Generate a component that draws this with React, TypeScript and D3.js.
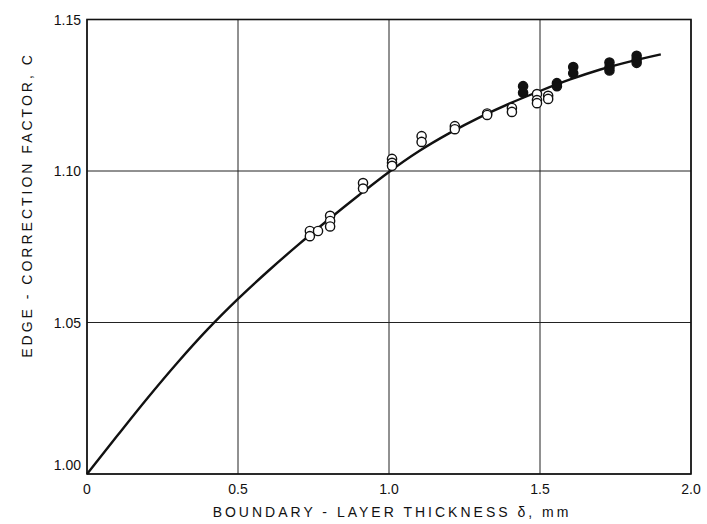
import React from 'react';
import * as d3 from 'd3';

// fitted curve
const curveX = [0, 0.1, 0.2, 0.3, 0.4, 0.5, 0.6, 0.7, 0.8, 0.9, 1.0, 1.1, 1.2, 1.3, 1.4, 1.5, 1.6, 1.7, 1.8, 1.9];
const curveY = [1.0, 1.0126, 1.025, 1.0368, 1.0478, 1.0578, 1.067, 1.0757, 1.084, 1.092, 1.0997, 1.1066, 1.1125, 1.1177, 1.1223, 1.1264, 1.1302, 1.1335, 1.1362, 1.1385];

// open circles
const openX = [0.738, 0.738, 0.765, 0.805, 0.805, 0.805, 0.914, 0.914, 1.01, 1.01, 1.01, 1.108, 1.108, 1.218, 1.218, 1.325, 1.325, 1.407, 1.407, 1.49, 1.49, 1.49, 1.527, 1.527];
const openY = [1.0802, 1.0785, 1.0802, 1.0852, 1.0835, 1.0817, 1.096, 1.0942, 1.104, 1.1027, 1.1017, 1.1115, 1.1096, 1.1148, 1.1138, 1.119, 1.1185, 1.1208, 1.1195, 1.1254, 1.1234, 1.1224, 1.1248, 1.1238];

// filled circles
const filledX = [1.444, 1.444, 1.556, 1.556, 1.61, 1.61, 1.73, 1.73, 1.73, 1.82, 1.82, 1.82];
const filledY = [1.128, 1.1258, 1.129, 1.128, 1.1343, 1.1323, 1.1358, 1.1342, 1.1332, 1.138, 1.1368, 1.1357];

const xTicks = [0, 0.5, 1.0, 1.5, 2.0];
const yTicks = [1.0, 1.05, 1.1, 1.15];

const W = 707;
const H = 524;
const margin = { left: 87, top: 19.5, right: 16, bottom: 50 };
const font = "'Liberation Sans', 'DejaVu Sans', sans-serif";

export default function App() {
  const x = d3.scaleLinear().domain([0, 2]).range([margin.left, W - margin.right]);
  const y = d3.scaleLinear().domain([1.0, 1.15]).range([H - margin.bottom, margin.top]);

  const line = d3.line<number>()
    .x((d, i) => x(curveX[i]))
    .y(d => y(d))
    .curve(d3.curveMonotoneX);

  const x0 = x(0), x1 = x(2), y0 = y(1.0), y1 = y(1.15);

  return (
    <svg width={W} height={H} style={{ position: 'absolute', left: 0, top: 0, background: '#fff' }}>
      <g fontFamily={font} fill="#111">
        {xTicks.map(t => (
          <line key={'gx' + t} x1={x(t)} x2={x(t)} y1={y0} y2={y1} stroke="#222" strokeWidth={1} />
        ))}
        {yTicks.map(t => (
          <line key={'gy' + t} x1={x0} x2={x1} y1={y(t)} y2={y(t)} stroke="#222" strokeWidth={1} />
        ))}
        <rect x={x0} y={y1} width={x1 - x0} height={y0 - y1} fill="none" stroke="#111" strokeWidth={1.6} />

        <path d={line(curveY) || ''} fill="none" stroke="#111" strokeWidth={2.4} />

        {openX.map((v, i) => (
          <circle key={'o' + i} cx={x(v)} cy={y(openY[i])} r={4.6} fill="#fff" stroke="#111" strokeWidth={1.4} />
        ))}
        {filledX.map((v, i) => (
          <circle key={'f' + i} cx={x(v)} cy={y(filledY[i])} r={4.6} fill="#111" stroke="#111" strokeWidth={1.4} />
        ))}

        {yTicks.map(t => (
          <text key={'ty' + t} x={x0 - 6} y={y(t) + (t === 1.0 ? -4 : 5)} textAnchor="end" fontSize={14}>
            {d3.format('.2f')(t)}
          </text>
        ))}
        {xTicks.map(t => (
          <text key={'tx' + t} x={x(t)} y={y0 + 20} textAnchor="middle" fontSize={14}>
            {t === 0 ? '0' : d3.format('.1f')(t)}
          </text>
        ))}

        <text x={392} y={H - 7} textAnchor="middle" fontSize={14} letterSpacing={3}>
          BOUNDARY - LAYER  THICKNESS  δ, mm
        </text>
        <text transform={`translate(32, 205) rotate(-90)`} textAnchor="middle" fontSize={14} letterSpacing={3}>
          EDGE - CORRECTION  FACTOR, C
        </text>
      </g>
    </svg>
  );
}
